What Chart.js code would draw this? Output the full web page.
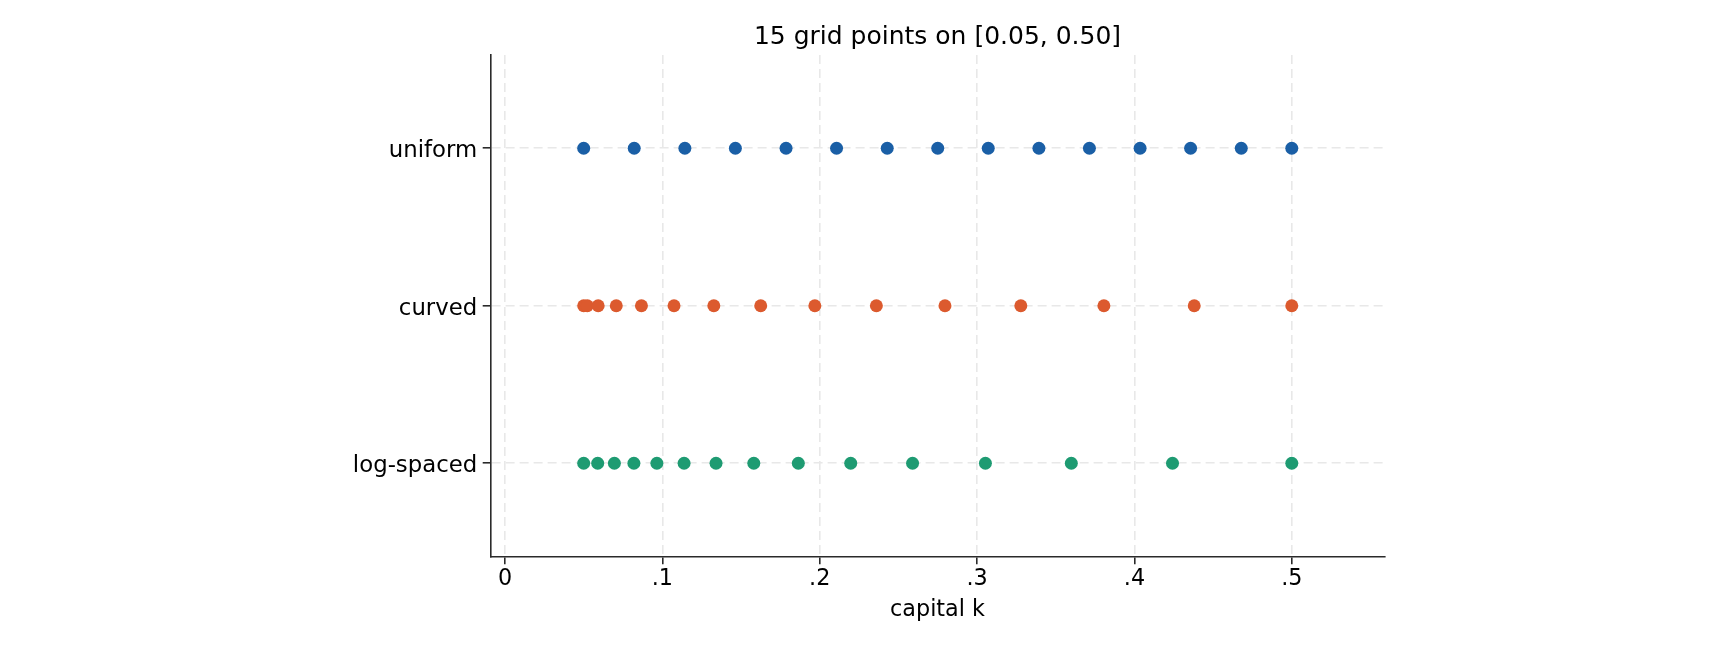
<!DOCTYPE html>
<html>
<head>
<meta charset="utf-8">
<script src="https://cdn.jsdelivr.net/npm/chart.js@4"></script>
<style>
  html, body { margin: 0; padding: 0; background: #fff; }
  canvas { display: block; }
</style>
</head>
<body>
<canvas id="gridChart" width="1728" height="652" style="width:1728px;height:652px"></canvas>
<script>
// rows, top to bottom
const rowLabels = ['uniform', 'curved', 'log-spaced'];
const rowColors = ['#1a5fa6', '#dc5a2e', '#1e9b72'];

const uniformK = [0.05, 0.0821, 0.1143, 0.1464, 0.1786, 0.2107, 0.2429, 0.275, 0.3071, 0.3393, 0.3714, 0.4036, 0.4357, 0.4679, 0.5];
const curvedK = [0.05, 0.0523, 0.0592, 0.0707, 0.0867, 0.1074, 0.1327, 0.1625, 0.1969, 0.236, 0.2796, 0.3278, 0.3806, 0.438, 0.5];
const logK = [0.05, 0.0589, 0.0695, 0.0819, 0.0965, 0.1138, 0.1341, 0.1581, 0.1864, 0.2197, 0.259, 0.3053, 0.3599, 0.4242, 0.5];

const xTicks = [0, 0.1, 0.2, 0.3, 0.4, 0.5];
const xTickLabels = ['0', '.1', '.2', '.3', '.4', '.5'];

const font = 'DejaVu Sans';
const gridColor = '#e8e8e8';
const axisColor = '#2a2a2a';

const series = [uniformK, curvedK, logK];

const datasets = series.map((values, i) => ({
    label: rowLabels[i],
    data: values.map((k) => ({ x: k, y: i + 1 })),
    backgroundColor: rowColors[i],
    borderWidth: 0,
    pointRadius: 6.5,
    pointHoverRadius: 6.5,
    showLine: false,
}));

new Chart(document.getElementById('gridChart'), {
    type: 'scatter',
    data: { datasets },
    options: {
        responsive: false,
        devicePixelRatio: 1,
        animation: false,
        layout: { padding: { left: 0, right: 343.7, top: 0, bottom: 0 } },
        plugins: {
            legend: { display: false },
            tooltip: { enabled: false },
            title: {
                display: true,
                fullSize: false,
                text: '15 grid points on [0.05, 0.50]',
                color: '#000',
                font: { family: font, size: 25, weight: 'normal' },
                padding: { top: 22, bottom: 3 },
            },
        },
        scales: {
            x: {
                type: 'linear',
                min: -0.0091,
                max: 0.5588,
                afterBuildTicks: (scale) => { scale.ticks = xTicks.map((v) => ({ value: v })); },
                afterFit: (scale) => { scale.height = 95.7; },
                ticks: {
                    color: '#000',
                    font: { family: font, size: 22.3 },
                    padding: 2,
                    maxRotation: 0,
                    callback: (value) => xTickLabels[xTicks.indexOf(value)] ?? '',
                },
                grid: {
                    color: gridColor,
                    lineWidth: 1.6,
                    tickColor: axisColor,
                    tickLength: 8,
                    tickWidth: 1.6,
                },
                border: { display: true, color: axisColor, width: 1.6, dash: [9, 5] },
                title: {
                    display: true,
                    text: 'capital k',
                    color: '#000',
                    font: { family: font, size: 22.3 },
                    padding: { top: 0, bottom: 28 },
                },
            },
            y: {
                type: 'linear',
                reverse: true,
                min: 0.408,
                max: 3.591,
                afterBuildTicks: (scale) => { scale.ticks = rowLabels.map((_, i) => ({ value: i + 1 })); },
                afterFit: (scale) => { scale.width = 490.7; },
                ticks: {
                    color: '#000',
                    font: { family: font, size: 22.8 },
                    padding: 5.5,
                    labelOffset: 3,
                    callback: (value) => rowLabels[value - 1] ?? '',
                },
                grid: {
                    color: gridColor,
                    lineWidth: 1.6,
                    tickColor: axisColor,
                    tickLength: 8,
                    tickWidth: 1.6,
                },
                border: { display: true, color: axisColor, width: 1.6, dash: [9, 5] },
            },
        },
    },
});
</script>
</body>
</html>
